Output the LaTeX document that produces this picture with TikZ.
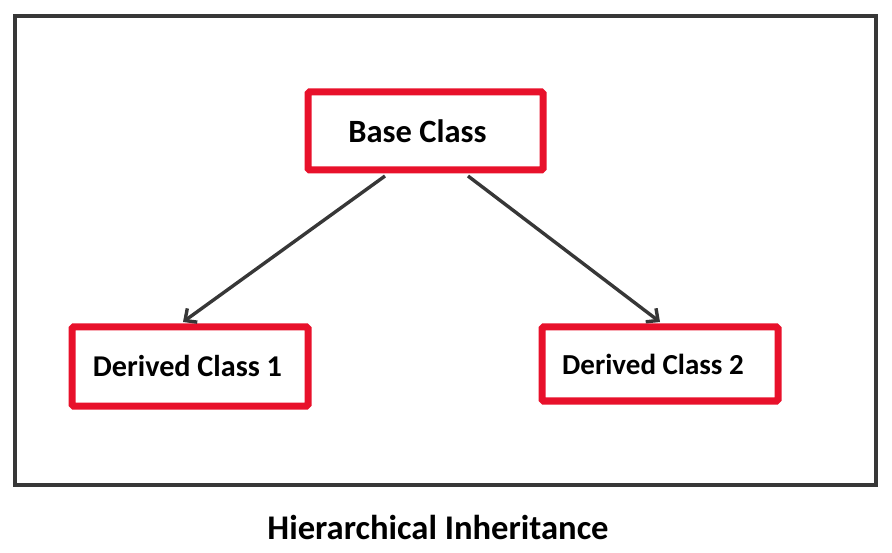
\documentclass[tikz,border=0pt]{standalone}
\usepackage{fontspec}
\setmainfont{Carlito}
\usetikzlibrary{arrows.meta}
\definecolor{boxred}{RGB}{232,17,43}
\definecolor{framegray}{RGB}{55,55,55}
\begin{document}
\begin{tikzpicture}[x=1pt,y=-1pt,
  classbox/.style={draw=boxred, line width=7pt, rounded corners=1.5pt,
    inner sep=0pt, minimum width=236pt},
  link/.style={draw=framegray, line width=3.4pt, -{Straight Barb[length=9pt,width=17pt,line width=3.4pt]}}]
\useasboundingbox (0,0) rectangle (892,553);
\node[draw=framegray, line width=4pt, minimum width=861pt, minimum height=468pt, inner sep=0pt, anchor=north west] (frame) at (13,14.5) {};
\node[classbox, minimum width=235pt, minimum height=78pt, font=\bfseries\fontsize{32.5}{36}\selectfont] (base) at (425.5,131) {\hspace*{-16pt}Base Class};
\node[classbox, minimum height=79pt, font=\bfseries\fontsize{30.2}{34}\selectfont] (d1) at (190,366.5) {\hspace*{-5pt}Derived Class 1};
\node[classbox, minimum height=74pt, font=\bfseries\fontsize{29}{33}\selectfont] (d2) at (660,364) {\hspace*{-14pt}Derived Class 2};
\node[font=\bfseries\fontsize{34.6}{38}\selectfont, inner sep=0pt] (title) at (438,527) {Hierarchical Inheritance};
\coordinate (s1) at (385,176);
\coordinate (e1) at (183,322);
\coordinate (s2) at (468,176);
\coordinate (e2) at (660,322);
\draw[link] (s1) -- (e1);
\draw[link] (s2) -- (e2);
\end{tikzpicture}
\end{document}
